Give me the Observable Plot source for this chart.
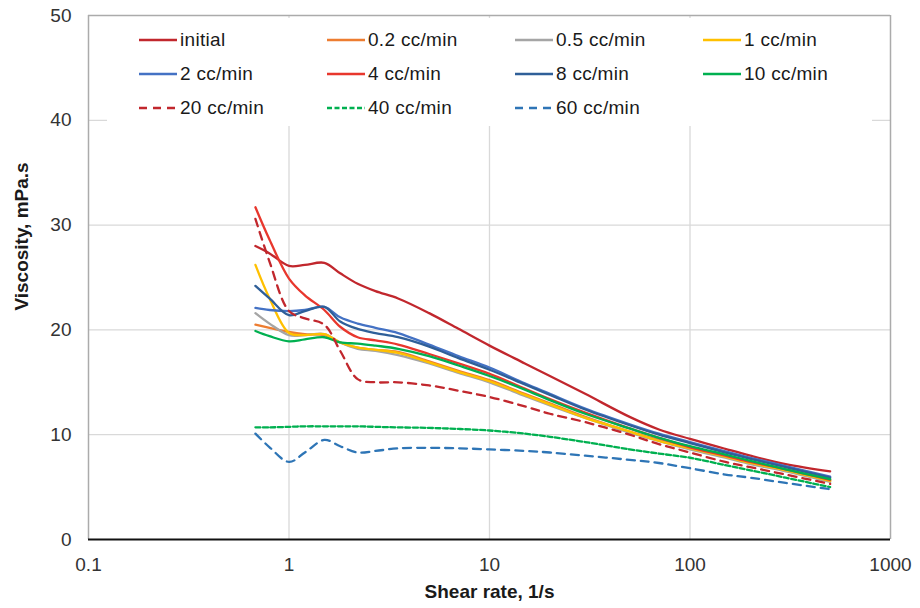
<!DOCTYPE html>
<html><head><meta charset="utf-8">
<script src="https://cdn.jsdelivr.net/npm/d3@7"></script>
<script src="https://cdn.jsdelivr.net/npm/@observablehq/plot@0.6"></script>
<style>
body{margin:0;background:#fff;}
#wrap{position:relative;width:920px;height:608px;overflow:hidden;}
#legend{position:absolute;left:107px;top:18px;width:765px;height:108px;background:#fff;font-family:"Liberation Sans",Arial,sans-serif;font-size:19px;letter-spacing:0.3px;color:#1a1a1a;}
.item{position:absolute;display:flex;align-items:center;height:24px;white-space:nowrap;}
.item svg{margin-right:3px;display:block}
</style></head><body><div id="wrap"></div>
<script>
// ---- data ----
const shearRate = [0.68, 0.8, 1, 1.2, 1.5, 1.8, 2.2, 2.7, 3.5, 5, 7, 10, 15, 20, 30, 50, 70, 100, 150, 200, 300, 500];
const initial = [28.0, 27.3, 26.1, 26.2, 26.4, 25.4, 24.4, 23.7, 23.0, 21.6, 20.1, 18.5, 16.8, 15.6, 13.9, 11.7, 10.5, 9.6, 8.65, 8.0, 7.2, 6.5];
const cc02 = [20.5, 20.2, 19.8, 19.6, 19.5, 18.8, 18.3, 18.1, 17.9, 17.0, 16.1, 15.2, 13.9, 13.0, 11.7, 10.3, 9.5, 8.7, 7.9, 7.3, 6.6, 5.6];
const cc05 = [21.6, 20.6, 19.5, 19.5, 19.6, 18.8, 18.2, 18.0, 17.6, 16.8, 15.9, 15.0, 13.7, 12.8, 11.6, 10.2, 9.4, 8.6, 7.8, 7.2, 6.5, 5.5];
const cc1 = [26.2, 23.0, 19.7, 19.5, 19.6, 18.8, 18.3, 18.1, 17.8, 16.9, 16.0, 15.1, 13.8, 12.9, 11.6, 10.3, 9.4, 8.7, 7.9, 7.3, 6.6, 5.6];
const cc2 = [22.1, 21.9, 21.8, 21.9, 22.2, 21.2, 20.6, 20.2, 19.7, 18.6, 17.5, 16.4, 14.9, 13.9, 12.5, 11.0, 10.1, 9.3, 8.4, 7.8, 7.0, 6.0];
const cc4 = [31.7, 28.6, 24.9, 23.3, 21.9, 20.3, 19.3, 19.0, 18.6, 17.7, 16.8, 15.8, 14.4, 13.4, 12.1, 10.6, 9.7, 8.8, 8.0, 7.4, 6.7, 5.7];
const cc8 = [24.2, 23.0, 21.4, 21.8, 22.2, 20.8, 20.1, 19.7, 19.3, 18.4, 17.3, 16.2, 14.8, 13.8, 12.4, 10.9, 10.0, 9.2, 8.3, 7.7, 6.9, 5.9];
const cc10 = [19.9, 19.4, 18.9, 19.1, 19.3, 18.8, 18.7, 18.5, 18.2, 17.5, 16.6, 15.6, 14.3, 13.3, 12.0, 10.6, 9.7, 8.9, 8.1, 7.5, 6.7, 5.75];
const cc20 = [30.6, 26.5, 21.8, 21.1, 20.5, 18.0, 15.3, 15.0, 15.0, 14.7, 14.2, 13.6, 12.7, 12.0, 11.2, 10.0, 9.1, 8.3, 7.4, 6.9, 6.2, 5.3];
const cc40 = [10.7, 10.7, 10.75, 10.8, 10.8, 10.8, 10.8, 10.75, 10.7, 10.65, 10.55, 10.4, 10.1, 9.8, 9.3, 8.6, 8.2, 7.8, 7.1, 6.6, 5.9, 5.0];
const cc60 = [10.1, 8.8, 7.4, 8.3, 9.5, 8.9, 8.3, 8.45, 8.7, 8.75, 8.7, 8.6, 8.45, 8.3, 8.0, 7.6, 7.3, 6.8, 6.2, 5.9, 5.4, 4.8];

const seriesNames = ["initial", "0.2 cc/min", "0.5 cc/min", "1 cc/min", "2 cc/min", "4 cc/min", "8 cc/min", "10 cc/min", "20 cc/min", "40 cc/min", "60 cc/min"];
const seriesValues = [initial, cc02, cc05, cc1, cc2, cc4, cc8, cc10, cc20, cc40, cc60];

const xTicks = [0.1, 1, 10, 100, 1000];
const xTickLabels = ["0.1", "1", "10", "100", "1000"];
const yTicks = [0, 10, 20, 30, 40, 50];
const xGrid = [1, 10, 100];
const yGrid = [10, 20, 30, 40];

// ---- styles ----
const colors = ["#C1272D", "#ED7D31", "#A5A5A5", "#FFC000", "#4472C4", "#E8372D", "#2F5F98", "#00B050", "#C1272D", "#00B050", "#2E75B6"];
const dashes = [null, null, null, null, null, null, null, null, "8,6", "5,2.5", "8,6"];

const rows = [];
seriesNames.forEach((name, s) => shearRate.forEach((x, i) => rows.push({series: name, x, y: seriesValues[s][i]})));

const font = '"Liberation Sans", Arial, sans-serif';
const marks = [
  Plot.ruleX(xGrid, {stroke: "#D9D9D9", strokeWidth: 1.3}),
  Plot.ruleY(yGrid, {stroke: "#D9D9D9", strokeWidth: 1.3}),
  Plot.ruleX([0.1, 1000], {stroke: "#ABABAB", strokeWidth: 1.5}),
  Plot.ruleY([50], {stroke: "#ABABAB", strokeWidth: 1.5}),
];
seriesNames.forEach((name, s) => {
  marks.push(Plot.line(rows.filter(d => d.series === name), {
    x: "x", y: "y", stroke: colors[s], strokeWidth: 2.3,
    strokeDasharray: dashes[s] || undefined, curve: "catmull-rom"
  }));
});
marks.push(Plot.ruleY([0], {stroke: "#111", strokeWidth: 2.2}));
marks.push(Plot.text(["Shear rate, 1/s"], {text: d => d, frameAnchor: "bottom", textAnchor: "middle", dy: 58, fontWeight: "bold", fontSize: 19, fill: "#1a1a1a"}));
marks.push(Plot.text(["Viscosity, mPa.s"], {text: d => d, frameAnchor: "left", textAnchor: "middle", rotate: -90, dx: -67, dy: -41, fontWeight: "bold", fontSize: 19, fill: "#1a1a1a"}));

const chart = Plot.plot({
  width: 920, height: 608,
  marginLeft: 88, marginRight: 30, marginTop: 15, marginBottom: 69,
  style: {fontFamily: font, fontSize: "19px", color: "#333", background: "#fff"},
  x: {type: "log", domain: [0.1, 1000], ticks: xTicks, tickFormat: d => xTickLabels[xTicks.indexOf(d)], tickSize: 0, tickPadding: 18, label: null},
  y: {domain: [0, 50], ticks: yTicks, tickSize: 0, tickPadding: 17, label: null},
  marks
});
const wrap = document.getElementById("wrap");
wrap.appendChild(chart);

// ---- legend (inside plot area) ----
const legend = document.createElement("div");
legend.id = "legend";
const colX = [32, 220, 408, 596];
const rowY = [21.5, 55.5, 89.5];
seriesNames.forEach((name, s) => {
  const item = document.createElement("div");
  item.className = "item";
  item.style.left = colX[s % 4] + "px";
  item.style.top = (rowY[Math.floor(s / 4)] - 12) + "px";
  const dash = dashes[s] ? `stroke-dasharray="${dashes[s]}"` : "";
  item.innerHTML = `<svg width="38" height="6"><line x1="0" y1="3" x2="38" y2="3" stroke="${colors[s]}" stroke-width="2.3" ${dash}/></svg><span>${name}</span>`;
  legend.appendChild(item);
});
wrap.appendChild(legend);
</script></body></html>
